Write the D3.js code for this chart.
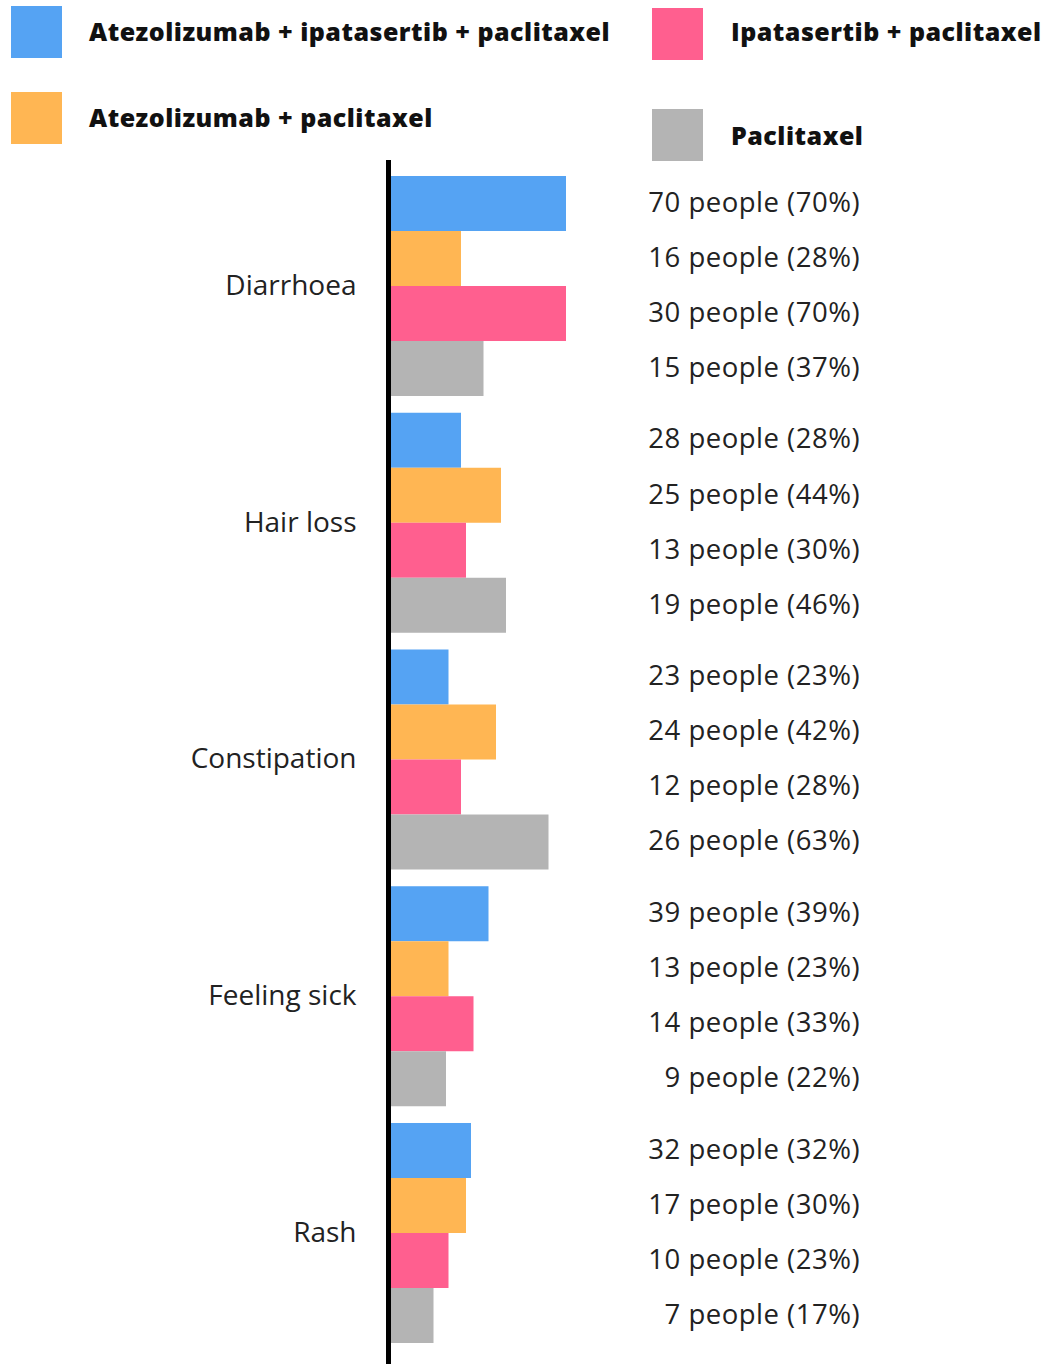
<!DOCTYPE html>
<html>
<head>
<meta charset="utf-8">
<script src="https://cdn.jsdelivr.net/npm/d3@7"></script>
<style>
  html, body { margin: 0; padding: 0; background: #fff; }
  svg { display: block; }
</style>
</head>
<body>
<svg id="chart" width="1046" height="1364"></svg>
<script>
// Side effects, by treatment group
const categories = ["Diarrhoea", "Hair loss", "Constipation", "Feeling sick", "Rash"];
const seriesNames = [
  "Atezolizumab + ipatasertib + paclitaxel",
  "Atezolizumab + paclitaxel",
  "Ipatasertib + paclitaxel",
  "Paclitaxel"
];
const seriesColors = ["#55A3F3", "#FFB653", "#FF5F8F", "#B4B4B4"];

// people affected, per category, in series order
const peopleCounts = [
  [70, 16, 30, 15],
  [28, 25, 13, 19],
  [23, 24, 12, 26],
  [39, 13, 14, 9],
  [32, 17, 10, 7]
];
// share of each group affected (%)
const percentValues = [
  [70, 28, 70, 37],
  [28, 44, 30, 46],
  [23, 42, 28, 63],
  [39, 23, 33, 22],
  [32, 30, 23, 17]
];

const svg = d3.select("#chart");
const labelFont = "'Open Sans', 'Noto Sans', sans-serif";
const legendFont = "'Open Sans', 'Noto Sans', sans-serif";

// legend
const legendItems = [
  { name: seriesNames[0], color: seriesColors[0], sx: 11, sy: 6, tx: 89, ty: 41 },
  { name: seriesNames[1], color: seriesColors[1], sx: 11, sy: 92, tx: 89, ty: 127 },
  { name: seriesNames[2], color: seriesColors[2], sx: 652, sy: 8, tx: 731, ty: 41 },
  { name: seriesNames[3], color: seriesColors[3], sx: 652, sy: 109, tx: 731, ty: 145 }
];
const legend = svg.append("g").attr("class", "legend");
legend.selectAll("rect").data(legendItems).join("rect")
  .attr("x", d => d.sx).attr("y", d => d.sy)
  .attr("width", 51).attr("height", 52)
  .attr("fill", d => d.color);
legend.selectAll("text").data(legendItems).join("text")
  .attr("x", d => d.tx).attr("y", d => d.ty)
  .attr("font-family", legendFont)
  .attr("font-weight", 800)
  .attr("font-size", 25)
  .attr("letter-spacing", 0.5)
  .attr("fill", "#111")
  .text(d => d.name);

// scales
const x0 = 391;
const x = d3.scaleLinear().domain([0, 70]).range([x0, 566]);
const y = d3.scaleBand().domain(categories).range([176, 1343]).paddingInner(0.0707);
const ySub = d3.scaleBand().domain(seriesNames).range([0, y.bandwidth()]);

const rows = [];
categories.forEach((c, i) => {
  seriesNames.forEach((s, j) => {
    rows.push({ cat: c, series: s, color: seriesColors[j], pct: percentValues[i][j], people: peopleCounts[i][j] });
  });
});

// bars
svg.append("g").selectAll("rect").data(rows).join("rect")
  .attr("x", x(0))
  .attr("y", d => y(d.cat) + ySub(d.series))
  .attr("width", d => x(d.pct) - x(0))
  .attr("height", ySub.bandwidth())
  .attr("fill", d => d.color);

// value labels
svg.append("g").selectAll("text").data(rows).join("text")
  .attr("x", 860)
  .attr("y", d => y(d.cat) + ySub(d.series) + ySub.bandwidth() / 2)
  .attr("dy", "0.3em")
  .attr("text-anchor", "end")
  .attr("font-family", labelFont)
  .attr("font-size", 27.5)
  .attr("letter-spacing", 0.5)
  .attr("fill", "#222")
  .text(d => `${d.people} people (${d.pct}%)`);

// category axis
const axis = d3.axisLeft(y).tickSize(0).tickPadding(32);
const axisG = svg.append("g").attr("transform", `translate(${388.5},0)`).call(axis);
axisG.select(".domain").remove();
axisG.selectAll("text")
  .attr("font-family", labelFont)
  .attr("font-size", 28)
  .attr("fill", "#222");
svg.append("line")
  .attr("x1", 388.5).attr("x2", 388.5)
  .attr("y1", 160).attr("y2", 1364)
  .attr("stroke", "#000").attr("stroke-width", 5);
</script>
</body>
</html>
